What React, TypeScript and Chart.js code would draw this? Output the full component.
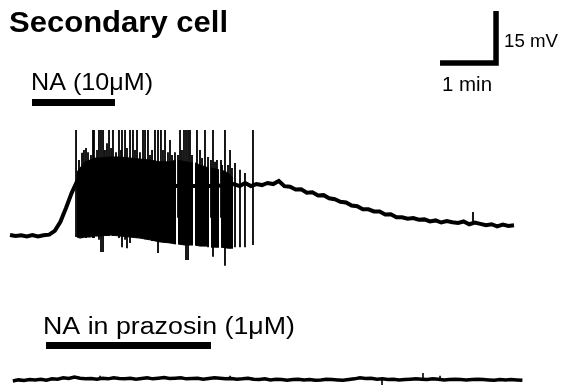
import React, { useEffect, useRef } from "react";
import { Chart, registerables } from "chart.js";

Chart.register(...registerables);

// ---------- texts ----------
const TITLE = "Secondary cell";
const NA_LABEL = "NA (10μM)";
const PRAZ_LABEL = "NA in prazosin (1μM)";
const SCALE_T_LABEL = "1 min";
const SCALE_V_LABEL = "15 mV";

// ---------- data (time in min, potential in mV relative to rest) ----------
const DT = 0.1;

const TRACE1_START = 0;
const trace1 = [
  0, -0.3, -0.1, -0.4, 0, -0.4, -0.1, 0.1, 1.2, 3.8, 7.8, 12.1, 15.6,
  15.9, 15.9, 15.6, 15.6, 15.3, 15.3, 15.0, 15.0, 15.0, 14.7, 14.7, 14.7, 14.4, 14.4, 14.4, 14.4,
  14.1, 14.1, 14.1, 14.1, 14.1, 14.1, 14.1, 14.1, 14.1, 14.4, 14.4,
  14.7, 14.1, 15.0, 14.1, 14.7, 14.4, 15.0, 14.7, 15.6, 14.1,
  13.9, 13.1, 13.2, 12.2, 12.3, 11.4, 11.5, 10.6, 10.3, 9.6,
  9.4, 8.5, 8.3, 7.4, 7.4, 6.8, 6.8, 5.9, 6.0, 5.1,
  5.1, 4.7, 4.9, 4.4, 4.5, 3.9, 4.2, 3.6, 4.0, 3.7,
  3.5, 3.9, 3.1, 3.6, 3.2, 2.8, 3.1, 2.5, 3.0, 2.6, 2.8,
];

// individual action potentials of trace 1
const spikeTimes = [
  1.179, 1.286, 1.357, 1.482, 1.5, 1.589, 1.625, 1.661, 1.732, 1.768,
  1.839, 1.946, 2.0, 2.054, 2.089, 2.143, 2.196, 2.268, 2.375, 2.411,
  2.464, 2.536, 2.589, 2.643, 2.696, 2.768, 2.857, 2.893, 2.946, 3.036,
  3.107, 3.143, 3.179, 3.214, 3.339, 3.393, 3.482, 3.536, 3.625, 3.696,
  3.839, 3.929, 4.018, 4.107, 4.196, 4.339, 8.268,
  1.232, 1.321, 1.393, 1.446, 1.554, 1.696, 1.804, 1.893, 1.982, 2.232,
  2.321, 2.5, 2.732, 2.821, 3.0, 3.071, 3.25, 3.429, 3.589, 3.661,
  3.768, 3.786, 3.893, 3.964,
];
const spikePeaks = [
  30.3, 23.7, 25.1, 30.3, 30.3, 30.3, 30.3, 30.3, 26.5, 30.3,
  30.3, 30.3, 30.3, 30.3, 25.1, 30.3, 30.3, 30.3, 30.3, 30.3,
  30.3, 24.5, 30.3, 30.3, 30.3, 30.3, 27.4, 23.1, 23.9, 30.3,
  30.3, 30.3, 30.3, 30.3, 30.3, 24.5, 30.3, 22.5, 30.3, 21.6,
  30.3, 24.5, 20.8, 18.8, 17.9, 30.3, 6.6,
  21.6, 24.5, 23.9, 23.1, 24.5, 24.5, 25.1, 23.9, 24.5, 24.5,
  23.9, 23.1, 24.5, 23.9, 23.1, 24.5, 23.1, 22.2, 21.6, 21.1,
  21.6, 20.2, 20.2, 19.3,
];
const spikeTroughs = [
  -0.6, -0.9, -0.9, -0.9, -0.9, -1.4, -4.9, -4.9, -0.3, -0.3,
  -0.3, -0.9, -3.5, -1.4, -3.8, -2.3, -0.6, -0.9, -0.9, -1.2,
  -1.4, -1.7, -1.7, -5.2, -2.0, -2.0, -2.3, -2.3, -2.6, -2.6,
  -2.9, -7.2, -7.2, -2.9, -3.2, -3.2, -3.2, -3.5, -6.3, -3.5,
  -8.9, -3.8, -3.5, -3.5, -3.5, -2.9, 2.9,
  5, 5, 5, 5, 5, 5, 5, 5, 5, 5,
  5, 5, 5, 5, 5, 5, 5, 5, 5, 5,
  5, 5, 5, 5,
];

// envelope of the dense high-frequency firing (null = pause)
const burstTimes = [
  1.196, 1.25, 1.339, 1.429, 1.518, 1.607, 1.786, 1.964, 2.143, 2.321,
  2.5, 2.679, 2.857, 2.964, 2.982, 3.0, 3.125, 3.268, 3.286, 3.304,
  3.393, 3.554, 3.571, 3.589, 3.732, 3.75, 3.768, 3.893, 3.982,
];
const burstTop = [
  18.2, 19.3, 21.1, 21.6, 22.2, 22.2, 22.5, 22.5, 22.2, 21.9,
  21.6, 21.1, 21.1, 21.6, null, 21.6, 21.1, 20.8, null, 20.8,
  20.2, 19.3, null, 19.3, 18.8, null, 18.8, 17.9, 16.4,
];
const burstBottom = [
  -0.6, -0.9, -0.6, -0.6, -0.3, -0.3, 0, -0.3, -0.6, -0.9,
  -1.4, -2.0, -2.3, -2.6, null, -2.6, -2.9, -2.9, null, -2.9,
  -3.2, -3.2, null, -3.5, -3.5, null, -3.5, -3.8, -3.8,
];

const TRACE2_START = 0.05;
const trace2 = [
  -0.3, 0.0, -0.2, 0.1, 0.0, 0.2, -0.1, 0.3, 0.2, 0.6,
  0.4, 0.8, 0.5, 0.3, 0.4, 0.2, 0.5, 0.3, 0.6, 0.4,
  0.3, 0.5, 0.2, 0.4, 0.6, 0.3, 0.5, 0.7, 0.4, 0.5,
  0.6, 0.3, 0.4, 0.5, 0.2, 0.4, 0.6, 0.5, 0.3, 0.4,
  0.2, 0.3, 0.5, 0.2, 0.1, 0.3, 0.0, 0.2, 0.1, -0.1,
  0.1, 0.2, 0.0, 0.1, -0.1, 0.0, 0.2, 0.1, 0.0, -0.1,
  0.1, 0.3, 0.6, 0.4, 0.5, 0.2, 0.3, 0.1, 0.2, 0.0,
  0.1, 0.2, 0.3, 0.2, 0.1, 0.3, 0.2, 0.0, 0.1, 0.2,
  0.1, 0.0, 0.1, 0.2, 0.1, 0.0, -0.1, 0.1, 0.0, 0.1,
  0.0, -0.1,
];
const trace2EventTimes = [1.607, 3.929, 6.643, 7.375, 7.679];
const trace2EventValues = [1.2, 1.2, -1.5, 2.0, 1.2];

// drug applications (min)
const NA_ON = 0.393;
const NA_OFF = 1.875;
const PRAZ_ON = 0.643;
const PRAZ_OFF = 3.589;

// calibration
const CAL_TIME = 1; // min
const CAL_VOLT = 15; // mV

// ---------- layout ----------
const W = 565;
const H = 387;
const X_MIN = -0.1786;
const X_MAX = 9.9107;
const Y_MIN = -43.85;
const Y_MAX = 67.79;
const TRACE2_OFFSET = -41.8;
const NA_BAR_LEVEL = 38.2;
const PRAZ_BAR_LEVEL = -31.9;
const CAL_CORNER_T = 8.679;
const CAL_CORNER_V = 49.6;
const FONT = "'Liberation Sans', Arial, Helvetica, sans-serif";

function drawText(ctx: CanvasRenderingContext2D, text: string, x: number, y: number, font: string, targetWidth: number) {
  ctx.save();
  ctx.font = font;
  const w = ctx.measureText(text).width;
  const sx = targetWidth > 0 ? targetWidth / w : 1;
  ctx.translate(x, y);
  ctx.scale(sx, 1);
  ctx.fillText(text, 0, 0);
  ctx.restore();
}

const labelsPlugin = {
  id: "figureLabels",
  afterDraw(chart: any) {
    const ctx: CanvasRenderingContext2D = chart.ctx;
    const xs = chart.scales.x;
    const ys = chart.scales.y;
    ctx.save();
    ctx.fillStyle = "#000";
    ctx.textAlign = "left";
    ctx.textBaseline = "alphabetic";
    drawText(ctx, TITLE, 9, 32, `bold 29px ${FONT}`, 219);
    drawText(ctx, NA_LABEL, xs.getPixelForValue(NA_ON) - 1, ys.getPixelForValue(NA_BAR_LEVEL) - 13, `24px ${FONT}`, 122);
    drawText(ctx, PRAZ_LABEL, xs.getPixelForValue(PRAZ_ON) - 3, ys.getPixelForValue(PRAZ_BAR_LEVEL) - 12, `23px ${FONT}`, 252);
    const cx = xs.getPixelForValue(CAL_CORNER_T);
    const cyTop = ys.getPixelForValue(CAL_CORNER_V + CAL_VOLT);
    const cy = ys.getPixelForValue(CAL_CORNER_V);
    drawText(ctx, SCALE_V_LABEL, cx + 8, cyTop + 36, `19px ${FONT}`, 54);
    drawText(ctx, SCALE_T_LABEL, xs.getPixelForValue(CAL_CORNER_T - CAL_TIME) + 2, cy + 28, `20px ${FONT}`, 50);
    ctx.restore();
  },
};

export default function App() {
  const ref = useRef<HTMLCanvasElement | null>(null);

  useEffect(() => {
    if (!ref.current) return;

    const trace1Data = trace1.map((v, i) => ({ x: TRACE1_START + i * DT, y: v }));
    const trace2Data = trace2.map((v, i) => ({ x: TRACE2_START + i * DT, y: v + TRACE2_OFFSET }));
    const spikeData: any[] = [];
    spikeTimes.forEach((t, i) => {
      spikeData.push({ x: t, y: spikePeaks[i] }, { x: t, y: spikeTroughs[i] }, { x: t, y: null });
    });
    const ev2Data: any[] = [];
    trace2EventTimes.forEach((t, i) => {
      ev2Data.push({ x: t, y: TRACE2_OFFSET }, { x: t, y: TRACE2_OFFSET + trace2EventValues[i] }, { x: t, y: null });
    });
    const burstTopData = burstTimes.map((t, i) => ({ x: t, y: burstTop[i] }));
    const burstBottomData = burstTimes.map((t, i) => ({ x: t, y: burstBottom[i] }));

    const base = {
      borderColor: "#000",
      pointRadius: 0,
      tension: 0,
      spanGaps: false,
      fill: false,
    };

    const chart = new Chart(ref.current, {
      type: "line",
      data: {
        datasets: [
          { ...base, label: "burst top", data: burstTopData, borderWidth: 1, fill: "+1", backgroundColor: "#000" },
          { ...base, label: "burst bottom", data: burstBottomData, borderWidth: 1 },
          { ...base, label: "spikes", data: spikeData, borderWidth: 1.8 },
          { ...base, label: "trace 1", data: trace1Data, borderWidth: 4 },
          { ...base, label: "trace 2", data: trace2Data, borderWidth: 3.5 },
          { ...base, label: "trace 2 events", data: ev2Data, borderWidth: 1.6 },
          {
            ...base,
            label: "NA",
            data: [
              { x: NA_ON, y: NA_BAR_LEVEL },
              { x: NA_OFF, y: NA_BAR_LEVEL },
            ],
            borderWidth: 7,
            borderCapStyle: "butt",
          },
          {
            ...base,
            label: "prazosin",
            data: [
              { x: PRAZ_ON, y: PRAZ_BAR_LEVEL },
              { x: PRAZ_OFF, y: PRAZ_BAR_LEVEL },
            ],
            borderWidth: 7,
            borderCapStyle: "butt",
          },
          {
            ...base,
            label: "calibration",
            data: [
              { x: CAL_CORNER_T - CAL_TIME, y: CAL_CORNER_V },
              { x: CAL_CORNER_T, y: CAL_CORNER_V },
              { x: CAL_CORNER_T, y: CAL_CORNER_V + CAL_VOLT },
            ],
            borderWidth: 5.5,
            borderCapStyle: "butt",
            borderJoinStyle: "miter",
          },
        ],
      } as any,
      options: {
        responsive: false,
        animation: false,
        devicePixelRatio: 1,
        parsing: true,
        layout: { padding: 0 },
        plugins: {
          legend: { display: false },
          tooltip: { enabled: false },
          title: { display: false },
        },
        scales: {
          x: { type: "linear", min: X_MIN, max: X_MAX, display: false },
          y: { type: "linear", min: Y_MIN, max: Y_MAX, display: false },
        },
      } as any,
      plugins: [labelsPlugin],
    });

    return () => chart.destroy();
  }, []);

  return (
    <div style={{ position: "fixed", left: 0, top: 0, width: W, height: H, background: "#fff" }}>
      <canvas ref={ref} width={W} height={H} style={{ width: W, height: H, display: "block" }} />
    </div>
  );
}
